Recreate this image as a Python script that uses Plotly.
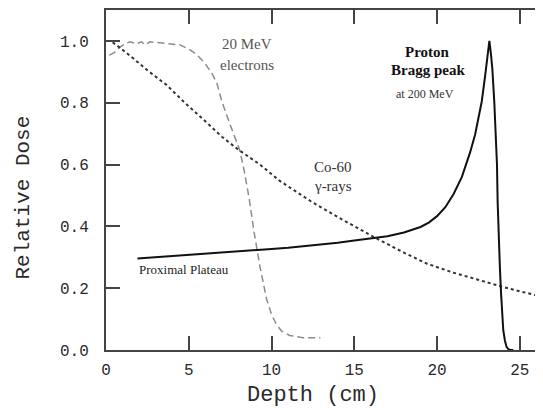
import plotly.graph_objects as go

# Depth-dose curves
proton_depth = [1.9, 3, 4, 5, 6, 7, 8, 9, 10, 11, 12, 13, 14, 15, 16, 17, 18, 19, 19.5,
                20, 20.5, 21, 21.5, 22, 22.3, 22.5, 22.7, 22.9, 23.05, 23.16, 23.25, 23.34,
                23.46, 23.55, 23.62, 23.66, 23.72, 23.8, 23.87, 23.94, 24.0, 24.1, 24.2,
                24.3, 24.41, 24.61]
proton_dose = [0.296, 0.300, 0.303, 0.307, 0.311, 0.314, 0.318, 0.322, 0.327, 0.331, 0.336,
               0.341, 0.347, 0.354, 0.360, 0.368, 0.380, 0.398, 0.412, 0.433, 0.462, 0.505,
               0.560, 0.640, 0.697, 0.750, 0.804, 0.885, 0.950, 1.000, 0.960, 0.910, 0.800,
               0.700, 0.600, 0.480, 0.360, 0.260, 0.180, 0.110, 0.064, 0.030, 0.010, 0.003,
               0.0, 0.0]

electron_depth = [0.2, 0.5, 0.85, 1.2, 1.45, 1.86, 2.15, 2.36, 2.66, 3.27, 3.87, 4.48, 5.08,
                  5.5, 6.0, 6.4, 6.7, 7.0, 7.5, 8.07, 8.35, 8.65, 8.95, 9.3, 9.7, 10.0, 10.3,
                  10.6, 11.1, 11.9, 12.95]
electron_dose = [0.954, 0.962, 0.980, 0.992, 0.997, 0.991, 0.997, 0.987, 0.997, 0.994, 0.990,
                 0.987, 0.971, 0.955, 0.926, 0.895, 0.863, 0.804, 0.729, 0.648, 0.580, 0.490,
                 0.380, 0.270, 0.165, 0.115, 0.082, 0.062, 0.047, 0.040, 0.040]

cobalt_depth = [0.4, 0.65, 1.5, 2.5, 3.67, 4.68, 6, 7, 8.0, 9.3, 10.5, 12.35, 14, 16.3, 18,
                19.4, 21, 22.5, 23.85, 25, 26.45]
cobalt_dose = [0.995, 0.986, 0.95, 0.905, 0.857, 0.804, 0.74, 0.69, 0.648, 0.60, 0.547, 0.482,
               0.43, 0.362, 0.315, 0.279, 0.25, 0.226, 0.206, 0.19, 0.171]

x_ticks = [0, 5, 10, 15, 20, 25]
y_ticks = [0.0, 0.2, 0.4, 0.6, 0.8, 1.0]
y_tick_text = ["0.0", "0.2", "0.4", "0.6", "0.8", "1.0"]

axis_col = "#444444"
text_col = "#2a2a2a"
mono = "Liberation Mono"
serif = "Liberation Serif"

fig = go.Figure()
fig.add_trace(go.Scatter(x=electron_depth, y=electron_dose, mode="lines",
                         line=dict(color="#8c8c8c", width=1.5, dash="7px,4px")))
fig.add_trace(go.Scatter(x=cobalt_depth, y=cobalt_dose, mode="lines",
                         line=dict(color="#333333", width=2, dash="dot")))
fig.add_trace(go.Scatter(x=proton_depth, y=proton_dose, mode="lines",
                         line=dict(color="#111111", width=2)))

# labels on the curves
fig.add_annotation(x=8.5, y=0.99, text="20 MeV", showarrow=False,
                   font=dict(family=serif, size=15, color="#555555"))
fig.add_annotation(x=8.5, y=0.923, text="electrons", showarrow=False,
                   font=dict(family=serif, size=15, color="#555555"))
fig.add_annotation(x=19.45, y=0.965, text="<b>Proton</b>", showarrow=False,
                   font=dict(family=serif, size=15, color="#111111"))
fig.add_annotation(x=19.45, y=0.905, text="<b>Bragg peak</b>", showarrow=False,
                   font=dict(family=serif, size=15, color="#111111"))
fig.add_annotation(x=19.3, y=0.828, text="at 200 MeV", showarrow=False,
                   font=dict(family=serif, size=12, color="#333333"))
fig.add_annotation(x=13.7, y=0.592, text="Co-60", showarrow=False,
                   font=dict(family=serif, size=15, color="#333333"))
fig.add_annotation(x=13.7, y=0.531, text="γ-rays", showarrow=False,
                   font=dict(family=serif, size=15, color="#333333"))
fig.add_annotation(x=4.7, y=0.262, text="Proximal Plateau", showarrow=False,
                   font=dict(family=serif, size=13, color="#222222"))

# axis titles
fig.add_annotation(xref="paper", yref="paper", x=0.474, y=-0.135, text="Depth (cm)",
                   xanchor="center", yanchor="middle", showarrow=False,
                   font=dict(family=mono, size=22, color=text_col))
fig.add_annotation(xref="paper", yref="paper", x=-0.188, y=0.448, text="Relative Dose",
                   xanchor="center", yanchor="middle", textangle=-90, showarrow=False,
                   font=dict(family=mono, size=21, color=text_col))

# ticks on the (cropped) right frame edge
for v in y_ticks:
    fig.add_shape(type="line", xref="paper", yref="y", x0=0.9886, x1=1.0, y0=v, y1=v,
                  line=dict(color=axis_col, width=1.5))

# page body adds an 8px offset, margins compensate for it
fig.update_layout(
    width=543, height=412,
    margin=dict(l=98, r=8, t=0, b=70),
    plot_bgcolor="white", paper_bgcolor="white",
    showlegend=False,
    xaxis=dict(range=[0, 26.4], tickvals=x_ticks, ticks="inside", ticklen=14, tickwidth=1.5,
               tickcolor=axis_col, showline=True, linecolor=axis_col, linewidth=2,
               mirror="ticks", showgrid=False, zeroline=False, ticklabelstandoff=4,
               tickfont=dict(family=mono, size=16, color=text_col)),
    yaxis=dict(range=[0, 1.1], tickvals=y_ticks, ticktext=y_tick_text, ticks="inside",
               ticklen=14, tickwidth=1.5, tickcolor=axis_col, showline=True,
               linecolor=axis_col, linewidth=2, showgrid=False, zeroline=False,
               ticklabelstandoff=12,
               tickfont=dict(family=mono, size=16, color=text_col)),
)

fig.write_html("out.html")
